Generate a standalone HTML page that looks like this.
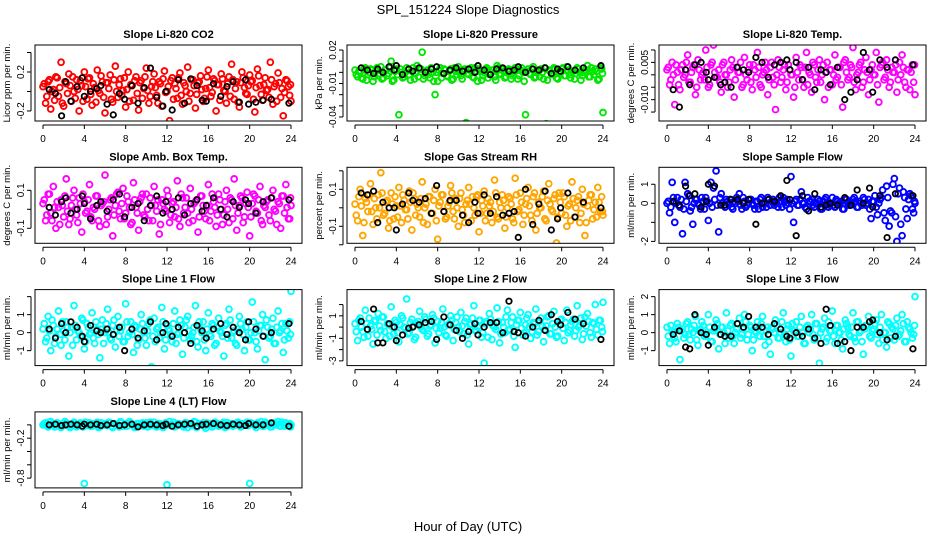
<!DOCTYPE html>
<html><head><meta charset="utf-8"><style>
html,body{margin:0;padding:0;background:#fff;}
svg{display:block;font-family:"Liberation Sans",Arial,sans-serif;}
</style></head><body>
<svg id="chart" width="936" height="540" viewBox="0 0 936 540">
<text x="468" y="14" text-anchor="middle" font-size="13">SPL_151224  Slope Diagnostics</text>
<text x="468" y="531" text-anchor="middle" font-size="13">Hour of Day (UTC)</text>
</svg>
<script>
const T=[0,0.25,0.5,0.75,1,1.25,1.5,1.75,2,2.25,2.5,2.75,3,3.25,3.5,3.75,4,4.25,4.5,4.75,5,5.25,5.5,5.75,6,6.25,6.5,6.75,7,7.25,7.5,7.75,8,8.25,8.5,8.75,9,9.25,9.5,9.75,10,10.25,10.5,10.75,11,11.25,11.5,11.75,12,12.25,12.5,12.75,13,13.25,13.5,13.75,14,14.25,14.5,14.75,15,15.25,15.5,15.75,16,16.25,16.5,16.75,17,17.25,17.5,17.75,18,18.25,18.5,18.75,19,19.25,19.5,19.75,20,20.25,20.5,20.75,21,21.25,21.5,21.75,22,22.25,22.5,22.75,23,23.25,23.5,23.75,24];
const T2=[0.12,0.37,0.62,0.87,1.12,1.37,1.62,1.87,2.12,2.37,2.62,2.87,3.12,3.37,3.62,3.87,4.12,4.37,4.62,4.87,5.12,5.37,5.62,5.87,6.12,6.37,6.62,6.87,7.12,7.37,7.62,7.87,8.12,8.37,8.62,8.87,9.12,9.37,9.62,9.87,10.12,10.37,10.62,10.87,11.12,11.37,11.62,11.87,12.12,12.37,12.62,12.87,13.12,13.37,13.62,13.87,14.12,14.37,14.62,14.87,15.12,15.37,15.62,15.87,16.12,16.37,16.62,16.87,17.12,17.37,17.62,17.87,18.12,18.37,18.62,18.87,19.12,19.37,19.62,19.87,20.12,20.37,20.62,20.87,21.12,21.37,21.62,21.87,22.12,22.37,22.62,22.87,23.12,23.37,23.62,23.87,23.95];
const TB=[0.6,1.2,1.8,2.2,2.7,3.3,3.8,4.0,4.6,5.2,5.6,6.2,6.8,7.4,7.9,8.6,9.2,9.8,10.4,11.0,11.6,11.9,12.5,13.1,13.7,14.3,14.9,15.4,15.8,16.5,17.2,17.8,18.4,19.0,19.6,19.9,20.6,21.3,22.1,23.8];
const xTicks=[0,4,8,12,16,20,24];

const co2=[0.05,-0.12,0.10,-0.18,0.02,0.15,-0.05,0.30,-0.15,0.08,0.18,-0.10,0.00,0.12,-0.20,0.06,0.20,-0.08,0.14,-0.14,0.04,0.22,-0.02,0.10,-0.22,0.09,0.17,-0.11,0.26,-0.06,0.13,0.01,-0.16,0.20,0.07,-0.09,0.15,-0.19,0.11,0.03,0.24,-0.12,0.05,0.18,-0.04,0.10,-0.15,0.21,0.00,-0.30,0.14,0.08,-0.07,0.19,-0.13,0.06,0.25,-0.02,0.12,-0.17,0.09,0.16,-0.10,0.03,0.22,-0.05,0.13,-0.20,0.07,0.18,0.01,-0.12,0.15,0.28,-0.08,0.10,-0.16,0.20,0.04,-0.03,0.17,0.11,-0.21,0.23,0.06,-0.09,0.14,0.02,0.30,-0.13,0.08,0.19,-0.06,-0.25,0.12,0.05,-0.10];
const co2b=[0.08,-0.05,0.12,0.00,-0.09,0.14,0.04,-0.12,0.10,-0.02,0.06,0.15,-0.07,0.02,0.11,-0.10,0.05,0.13,-0.03,0.08,-0.11,0.01,0.16,-0.06,0.09,0.03,-0.08,0.12,0.00,0.07,-0.04,0.14,0.02,-0.10,0.06,0.11,-0.02,0.09,-0.07,0.15,0.01,-0.05,0.10,0.04,-0.12,0.08,0.13,-0.01,0.05,0.11,-0.08,0.03,0.14,-0.04,0.09,0.00,-0.10,0.12,0.06,-0.03,0.10,0.02,-0.07,0.15,0.04,-0.01,0.11,0.07,-0.09,0.13,0.00,0.08,-0.05,0.12,0.03,-0.11,0.09,0.14,-0.02,0.06,0.10,-0.08,0.04,0.16,-0.03,0.07,0.01,-0.06,0.12,0.05,-0.10,0.09,0.03,-0.01,0.11,-0.04,0.07];
const co2B=[0.02,-0.02,-0.25,0.10,-0.10,0.05,0.14,-0.05,0.00,0.03,0.06,-0.13,-0.24,-0.02,-0.08,0.06,-0.12,0.04,0.24,-0.06,-0.15,0.00,-0.19,0.12,-0.12,0.13,0.06,-0.09,-0.10,0.08,-0.05,0.05,0.10,-0.11,0.12,-0.13,-0.11,-0.09,-0.08,-0.12];
const pres=[0.002,-0.004,0.000,-0.006,0.004,-0.002,0.003,-0.008,0.001,-0.003,0.005,-0.005,0.002,-0.001,0.010,-0.007,0.003,-0.038,0.000,-0.004,0.004,-0.002,0.001,-0.006,0.006,0.003,0.018,-0.003,0.002,-0.005,0.000,-0.020,-0.008,0.004,-0.001,0.002,-0.004,0.003,-0.006,0.001,0.005,-0.003,0.002,-0.045,-0.002,0.004,-0.005,0.001,0.003,-0.007,0.000,0.004,-0.002,0.002,-0.004,0.006,-0.001,0.003,-0.005,0.002,0.001,-0.003,0.004,-0.006,0.002,0.000,-0.038,0.003,-0.002,0.005,-0.004,0.001,0.003,-0.006,-0.046,0.002,-0.001,0.004,-0.005,0.000,0.003,-0.003,0.005,-0.002,0.001,-0.006,0.004,0.000,-0.003,0.002,0.006,-0.004,0.001,0.003,-0.007,0.004,-0.036];
const presb=[-0.002,0.001,-0.005,0.003,-0.007,0.000,0.002,-0.004,0.004,-0.001,-0.006,0.002,-0.003,0.004,-0.008,0.001,-0.002,0.003,-0.005,0.000,0.002,-0.007,0.004,-0.001,-0.004,0.003,-0.006,0.001,-0.002,0.004,-0.008,0.000,0.002,-0.005,0.003,-0.003,0.001,-0.007,0.004,-0.002,0.000,-0.006,0.003,-0.001,0.002,-0.004,0.004,-0.008,0.001,-0.003,0.003,-0.005,0.000,0.002,-0.007,0.004,-0.002,0.001,-0.004,0.003,-0.006,0.000,0.002,-0.003,0.004,-0.008,0.001,-0.001,0.003,-0.005,0.002,-0.004,0.000,0.004,-0.007,0.001,-0.002,0.003,-0.006,0.000,0.004,-0.003,0.002,-0.005,0.001,-0.001,0.003,-0.007,0.000,0.002,-0.004,0.004,-0.002,0.001,-0.006,0.003,-0.001];
const presB=[0.004,0.002,-0.001,0.003,0.000,0.005,0.002,0.006,-0.002,0.003,0.001,0.004,0.000,0.003,0.005,-0.001,0.002,0.004,0.001,0.003,0.000,0.006,0.002,-0.002,0.003,0.004,0.001,0.002,0.005,0.000,0.003,0.002,0.004,-0.001,0.003,0.001,0.005,0.002,0.004,0.006];
const temp=[0.002,-0.004,0.005,-0.012,0.001,-0.006,0.004,0.000,0.008,-0.003,0.003,-0.008,0.006,-0.002,0.001,0.010,-0.005,0.004,0.012,-0.001,0.002,-0.007,0.005,0.000,-0.003,0.006,-0.009,0.003,0.001,-0.005,0.007,-0.002,0.004,-0.006,0.002,0.009,-0.004,0.000,0.005,-0.008,0.003,-0.001,-0.014,0.006,-0.003,0.002,-0.006,0.004,0.000,-0.009,0.007,-0.002,0.003,-0.005,0.009,0.001,-0.007,0.004,-0.003,0.006,0.000,-0.010,0.005,0.002,-0.004,0.008,-0.001,0.003,-0.013,0.006,-0.002,0.004,0.011,-0.006,0.001,0.005,-0.003,0.007,-0.008,0.002,0.000,0.009,-0.011,0.004,-0.002,0.006,-0.005,0.003,0.001,-0.007,0.005,0.008,-0.003,0.002,-0.006,0.004,-0.008];
const tempb=[0.003,-0.002,0.000,0.004,-0.004,0.002,-0.001,0.005,-0.003,0.001,0.004,-0.005,0.002,0.000,-0.002,0.003,-0.004,0.005,0.001,-0.001,-0.003,0.004,0.000,-0.005,0.002,0.003,-0.002,0.001,0.005,-0.004,0.000,0.002,-0.003,0.004,-0.001,0.003,-0.005,0.001,0.002,-0.002,0.005,-0.004,0.000,0.003,-0.001,0.004,-0.003,0.002,0.000,-0.005,0.001,0.004,-0.002,0.003,-0.004,0.000,0.005,-0.001,0.002,-0.003,0.004,0.001,-0.005,0.002,0.000,-0.002,0.003,-0.004,0.005,0.001,-0.001,0.003,-0.003,0.000,0.004,-0.005,0.002,0.001,-0.002,0.004,0.000,-0.004,0.003,0.005,-0.001,0.002,-0.003,0.001,0.004,-0.002,0.000,0.003,-0.005,0.002,0.001,-0.003,0.004];
const tempB=[-0.006,-0.013,0.002,-0.004,0.004,0.005,0.001,-0.002,-0.001,-0.004,-0.003,-0.005,0.003,0.002,0.001,0.007,0.005,-0.001,0.004,0.005,0.006,0.002,0.005,-0.002,0.003,-0.006,0.002,0.001,-0.004,0.003,-0.010,-0.007,-0.002,0.009,0.002,-0.007,0.006,0.003,0.006,0.004];
const amb=[0.03,-0.06,0.08,-0.02,0.12,-0.10,0.01,0.05,-0.04,0.16,-0.08,0.02,0.10,-0.03,0.06,-0.12,0.04,-0.01,0.13,-0.06,0.00,0.07,-0.09,0.03,0.18,-0.04,0.05,-0.14,0.02,0.09,-0.05,0.11,-0.02,0.04,-0.08,0.14,0.01,-0.11,0.06,-0.03,0.08,-0.06,0.02,0.12,-0.01,-0.13,0.05,0.00,0.10,-0.07,0.03,-0.04,0.15,-0.09,0.06,0.01,-0.02,0.11,-0.06,0.04,-0.12,0.07,0.02,-0.05,0.13,-0.01,0.04,-0.09,0.08,0.00,-0.03,0.10,-0.07,0.05,0.16,-0.11,0.02,0.06,-0.04,0.09,-0.14,0.03,0.07,-0.02,0.12,-0.08,0.01,0.05,-0.06,0.10,-0.01,0.04,-0.10,0.07,0.13,-0.05,0.02];
const ambb=[0.05,-0.03,0.08,-0.06,0.01,0.04,-0.08,0.02,0.07,-0.01,-0.05,0.06,0.00,-0.07,0.03,0.08,-0.02,0.05,-0.04,0.01,0.07,-0.06,0.02,0.04,-0.08,0.00,0.06,-0.03,0.08,-0.01,0.03,-0.05,0.07,0.01,-0.07,0.05,-0.02,0.04,0.08,-0.04,0.00,0.06,-0.06,0.02,0.05,-0.08,0.03,-0.01,0.07,-0.03,0.04,0.01,-0.05,0.08,-0.02,0.06,-0.07,0.00,0.03,0.05,-0.04,0.07,-0.01,0.02,-0.06,0.08,0.01,-0.03,0.05,-0.08,0.04,0.00,0.06,-0.05,0.02,-0.02,0.07,-0.07,0.03,0.01,-0.04,0.08,-0.01,0.05,-0.06,0.02,0.04,-0.03,0.06,0.00,-0.08,0.03,0.07,-0.02,0.01,-0.05,0.06];
const ambB=[0.01,-0.03,0.04,0.06,-0.02,0.00,0.07,0.03,-0.05,0.02,0.04,-0.01,0.05,0.08,-0.04,0.01,0.03,-0.06,0.02,0.07,-0.02,0.04,0.00,0.06,-0.03,0.03,0.05,-0.01,0.02,0.06,0.00,-0.04,0.04,0.01,0.05,0.03,-0.02,0.04,0.06,0.05];
const rh=[0.02,-0.07,0.10,-0.15,0.05,-0.02,0.13,-0.09,0.00,0.07,0.19,-0.04,0.03,-0.11,0.08,-0.06,0.01,0.11,-0.08,0.04,-0.01,0.09,-0.12,0.05,0.02,-0.05,0.14,0.00,-0.09,0.06,-0.03,0.10,-0.17,0.03,0.07,-0.06,0.01,0.12,-0.02,0.05,-0.10,0.08,-0.04,0.02,0.11,-0.07,0.00,0.06,-0.13,0.04,0.09,-0.03,0.01,-0.08,0.15,-0.05,0.03,0.07,-0.11,0.00,0.05,-0.06,0.16,-0.02,0.08,-0.09,0.02,0.11,-0.04,0.06,-0.12,0.03,0.00,0.09,-0.07,0.13,-0.01,0.05,-0.19,0.08,-0.03,0.06,-0.10,0.02,0.14,-0.05,0.04,-0.08,0.10,-0.15,0.01,0.07,-0.06,0.03,0.11,-0.02,-0.04];
const rhb=[-0.04,0.06,0.01,-0.08,0.03,0.07,-0.02,0.05,-0.06,0.00,0.08,-0.03,0.04,-0.07,0.02,0.06,-0.05,0.01,0.07,-0.01,-0.06,0.03,0.08,-0.04,0.00,0.05,-0.08,0.02,0.06,-0.03,0.04,-0.07,0.01,0.07,-0.02,-0.05,0.03,0.08,-0.06,0.00,0.05,-0.01,-0.08,0.04,0.02,0.06,-0.04,0.07,-0.03,0.01,-0.07,0.05,0.03,-0.02,0.08,-0.06,0.00,0.04,-0.05,0.06,0.02,-0.08,0.07,-0.01,0.03,-0.04,0.05,0.01,-0.07,0.08,-0.03,0.00,0.06,-0.06,0.04,0.02,-0.02,0.07,-0.05,0.03,0.08,-0.04,0.01,-0.07,0.05,0.00,0.06,-0.03,0.02,-0.08,0.04,0.07,-0.01,-0.05,0.03,0.06,-0.02];
const rhB=[0.08,0.07,0.09,-0.08,0.03,0.00,0.00,-0.12,0.02,0.08,0.04,0.03,0.05,-0.03,0.12,-0.02,0.04,0.04,-0.04,-0.08,0.03,-0.03,0.07,-0.03,0.06,-0.04,-0.03,-0.02,-0.16,0.10,-0.09,0.02,0.09,-0.12,-0.06,0.00,0.08,-0.05,0.03,0.00];
const sflow=[0.0,-0.5,1.1,-1.0,0.3,-0.2,-1.6,1.1,0.5,-0.4,-1.1,0.2,0.0,-0.3,0.1,0.3,-0.9,1.1,0.8,1.7,-1.5,0.5,-0.1,0.2,0.0,-0.2,0.1,0.3,0.5,-0.3,0.1,-0.1,0.2,0.0,-0.3,0.1,0.2,-0.2,0.0,0.3,-0.1,0.2,0.0,-0.2,0.1,0.3,-0.1,0.0,1.4,-1.0,0.2,-0.1,0.6,0.0,-0.3,0.1,0.2,-0.2,0.0,0.1,-0.3,0.2,0.0,-0.1,0.3,-0.2,0.1,0.0,-0.3,0.2,0.0,-0.1,0.2,0.1,-0.2,0.0,0.3,-0.1,0.2,-0.8,0.1,-0.2,0.0,0.3,-0.5,0.9,-1.2,-0.5,1.3,-2.0,0.8,-1.7,0.3,-0.8,0.5,-0.3,0.0];
const sflowb=[0.1,-0.2,0.3,0.0,-0.1,0.2,-0.3,0.1,0.4,-0.2,0.0,0.2,-0.1,0.3,-0.3,0.1,0.0,-0.2,0.2,-0.1,0.3,0.0,-0.2,0.1,0.2,-0.3,0.0,0.1,-0.1,0.3,-0.2,0.0,0.2,-0.1,0.1,-0.3,0.3,0.0,-0.2,0.2,0.1,-0.1,0.0,0.3,-0.2,0.1,0.2,-0.3,0.0,0.1,-0.1,0.2,0.0,-0.2,0.3,0.1,-0.1,0.0,0.2,-0.3,0.1,0.3,-0.2,0.0,-0.1,0.2,0.0,0.1,-0.3,0.2,-0.1,0.0,0.3,-0.2,0.1,-0.1,0.2,0.0,-0.3,0.1,0.4,-0.6,0.2,0.7,-0.9,0.3,-0.4,1.0,-0.7,0.5,-1.1,0.6,-0.3,0.2,0.4,-0.5,0.1];
const sflowB=[0.1,-0.1,0.9,0.4,0.5,-0.2,0.1,1.0,0.9,-0.1,-0.1,0.2,0.2,0.0,0.2,-1.1,0.0,0.2,0.1,0.4,1.2,0.2,-1.7,0.4,-0.4,0.5,-0.2,-0.1,0.0,-0.1,0.3,-0.1,0.7,0.0,0.8,-0.2,0.4,-1.8,0.5,0.4];
const line1=[0.2,-0.5,0.9,-1.0,0.4,-0.2,1.2,-0.7,0.1,0.6,-1.3,0.3,1.5,-0.4,0.0,0.8,-0.9,0.5,-0.1,1.1,-0.6,0.2,-1.4,0.7,0.0,1.3,-0.3,0.4,-0.8,0.9,0.1,-0.5,1.6,-0.2,0.6,-1.1,0.3,-0.4,1.0,0.0,-0.7,0.5,-1.9,0.8,0.2,-0.3,1.4,-0.9,0.4,0.1,-0.5,1.2,-0.1,0.7,-1.2,0.3,0.9,-0.4,0.0,1.5,-0.8,0.2,0.6,-1.0,1.1,-0.2,0.4,-0.6,0.8,0.0,-1.3,0.5,1.3,-0.3,0.1,-0.7,0.9,0.2,-1.0,0.6,-0.4,1.7,0.0,-0.9,0.4,1.0,-1.5,0.3,-0.2,0.8,-0.6,1.2,0.1,-1.1,0.5,-0.3,2.3];
const line1b=[0.5,-0.3,0.1,0.7,-0.6,0.2,-0.1,0.6,-0.4,0.3,0.0,-0.7,0.4,0.1,-0.2,0.7,-0.5,0.3,0.0,-0.3,0.6,-0.1,0.2,-0.6,0.5,0.0,-0.4,0.7,0.1,-0.2,0.3,-0.5,0.6,0.0,-0.1,0.4,-0.7,0.2,0.5,-0.3,0.1,0.7,-0.2,-0.5,0.3,0.0,0.6,-0.4,0.2,-0.1,0.5,-0.6,0.0,0.4,-0.3,0.7,0.1,-0.2,0.3,-0.5,0.6,0.0,-0.4,0.2,-0.1,0.5,-0.7,0.3,0.1,-0.2,0.4,-0.3,0.7,0.0,-0.6,0.2,0.5,-0.1,0.3,-0.4,0.0,0.6,-0.5,0.1,0.4,-0.2,0.7,-0.3,0.2,-0.6,0.3,0.0,0.5,-0.4,0.1,0.6,-0.1];
const line1B=[0.2,-0.3,0.5,0.0,0.6,0.3,-0.2,-0.5,0.4,0.1,0.0,0.2,-0.1,0.3,-1.0,0.2,-0.3,0.1,0.6,-0.4,0.0,0.5,-0.2,0.3,0.0,-0.6,0.4,0.1,-0.3,0.2,0.5,-0.1,0.3,0.0,-0.4,0.6,0.2,-0.2,0.0,0.5];
const line2=[0.3,-1.2,0.8,-0.4,1.5,-0.8,0.1,-1.5,0.6,1.2,-0.3,0.9,-1.0,0.2,1.8,-0.6,0.4,-1.3,1.0,0.0,2.5,-0.5,0.7,-1.1,0.3,1.4,-0.2,0.9,-0.8,0.1,1.1,-1.4,0.5,-0.1,1.6,-0.7,0.2,1.0,-1.2,0.4,0.0,1.3,-0.6,0.8,-1.5,0.3,1.9,-0.3,0.6,-0.9,-3.2,0.5,1.2,-1.1,0.0,1.7,-1.4,0.4,-0.5,1.5,-0.2,0.9,-1.8,0.6,1.3,-0.7,0.2,1.1,-1.0,0.4,1.6,-0.4,0.8,-1.3,0.1,1.0,-0.6,1.4,-0.9,0.3,0.7,-1.2,1.5,-0.3,0.5,-0.8,1.9,0.2,-1.1,0.9,1.2,-0.5,0.4,2.0,-0.7,0.6,2.2];
const line2b=[-0.4,0.6,0.0,-0.9,0.3,0.8,-0.2,0.5,-0.7,0.1,0.9,-0.4,0.3,-0.8,0.0,0.6,-0.5,0.2,0.8,-0.1,-0.6,0.4,0.1,-0.9,0.5,0.0,-0.3,0.7,-0.6,0.2,0.8,-0.1,-0.5,0.4,0.0,-0.8,0.3,0.6,-0.2,0.9,-0.4,0.1,0.5,-0.7,0.2,0.8,-0.3,0.0,0.6,-0.5,0.3,-0.9,0.7,0.1,-0.2,0.5,-0.6,0.0,0.9,-0.3,0.4,-0.8,0.2,0.6,-0.1,-0.5,0.8,0.0,-0.4,0.3,-0.7,0.5,0.1,-0.2,0.9,-0.6,0.3,0.0,-0.8,0.6,-0.1,0.4,-0.5,0.2,0.7,-0.3,0.0,0.8,-0.6,0.1,0.5,-0.9,0.3,-0.2,0.6,0.0,-0.4];
const line2B=[0.5,-0.2,1.6,-1.4,-1.4,0.3,0.0,-1.2,-0.7,-0.1,0.0,0.2,0.4,0.5,-1.1,0.9,0.2,-0.3,-1.0,-0.4,0.3,-0.7,0.0,0.4,0.4,-0.5,2.3,-0.4,-0.5,-0.8,0.0,0.6,-0.3,1.1,0.5,0.2,1.3,0.7,0.3,-1.1];
const line3=[0.3,-0.6,0.1,-0.3,0.5,-1.5,0.2,-0.1,0.6,-0.4,0.0,0.9,-0.7,0.2,0.4,-0.2,1.0,-0.5,0.1,0.7,-0.9,0.3,0.0,1.1,-0.3,0.5,-0.6,0.2,0.8,-0.1,1.0,-0.4,0.4,-1.0,0.1,0.6,-0.2,0.9,-0.7,0.3,-1.2,0.2,0.7,-0.3,0.0,1.1,-0.5,0.4,-1.3,0.1,0.6,-0.2,0.9,-0.6,0.3,0.0,1.0,-0.4,0.5,-1.7,0.2,0.8,-0.3,0.1,1.2,-0.6,0.4,0.0,-0.9,0.7,0.3,-0.2,1.1,-0.5,0.6,0.1,-1.2,0.4,0.9,-0.3,0.2,0.7,-0.6,1.0,0.0,-0.8,0.5,0.3,-0.4,0.8,-0.1,1.0,-0.5,0.6,0.2,-0.3,2.0];
const line3b=[-0.2,0.4,0.0,-0.5,0.3,0.1,-0.3,0.5,-0.1,0.2,0.4,-0.4,0.1,0.6,-0.2,0.0,0.3,-0.5,0.2,0.5,-0.1,0.3,-0.6,0.1,0.4,-0.2,0.0,0.5,-0.3,0.2,0.6,-0.1,0.3,-0.4,0.0,0.2,0.5,-0.2,0.1,-0.5,0.3,0.0,0.4,-0.3,0.6,-0.1,0.2,-0.4,0.5,0.1,-0.2,0.3,0.0,-0.6,0.4,0.2,-0.1,0.5,-0.3,0.0,0.3,-0.5,0.6,0.1,-0.2,0.4,0.0,-0.4,0.2,0.5,-0.1,0.3,-0.3,0.6,0.0,-0.5,0.2,0.4,-0.2,0.1,0.5,-0.1,0.3,-0.4,0.0,0.6,-0.3,0.2,0.4,-0.2,0.1,0.5,-0.5,0.3,0.0,-0.1,0.4];
const line3B=[-0.1,0.1,-0.8,-0.9,1.0,0.0,-0.1,-0.7,0.3,-0.1,-0.2,-0.2,0.5,0.3,0.9,0.3,0.3,-0.1,0.5,0.2,-0.2,-0.3,0.0,-0.2,0.2,-0.3,-0.6,1.3,0.4,-0.6,-0.5,-1.0,0.3,0.3,0.6,0.7,0.0,-0.4,-0.2,-0.9];
const line4=[0.00,0.03,-0.03,0.05,0.01,-0.02,0.02,-0.04,0.00,0.03,-0.02,0.01,0.04,-0.03,0.00,0.02,-0.88,-0.01,0.03,-0.02,0.01,0.04,-0.03,0.00,0.02,-0.01,0.03,-0.04,0.01,0.00,0.05,-0.02,0.02,-0.01,0.03,0.00,-0.03,0.02,0.01,-0.02,0.03,0.00,-0.01,0.04,-0.03,0.02,0.01,-0.02,-0.90,0.05,0.00,-0.03,0.02,0.01,-0.01,0.03,-0.04,0.02,0.00,0.04,-0.02,0.01,0.03,-0.05,0.00,0.02,-0.01,0.03,-0.02,0.01,0.04,-0.03,0.00,0.02,-0.01,0.03,0.00,-0.02,0.01,0.04,-0.88,0.02,-0.01,0.03,0.00,-0.02,0.04,0.01,-0.03,0.02,0.00,0.05,-0.02,0.01,0.03,-0.01,0.00];
const line4b=[0.02,-0.01,0.04,0.00,-0.03,0.03,0.01,-0.02,0.05,0.00,-0.04,0.02,0.01,-0.01,0.03,-0.03,0.04,0.00,-0.02,0.02,0.01,-0.04,0.03,0.00,-0.01,0.04,-0.02,0.02,0.00,-0.03,0.03,0.01,-0.02,0.05,0.00,-0.04,0.02,-0.01,0.03,0.01,-0.03,0.04,0.00,-0.02,0.02,0.01,-0.04,0.03,0.00,-0.01,0.04,-0.02,0.02,0.00,-0.03,0.03,0.01,-0.01,0.05,-0.04,0.02,0.00,-0.02,0.03,0.01,-0.03,0.04,0.00,-0.01,0.02,-0.04,0.03,0.01,-0.02,0.00,0.04,-0.03,0.02,0.01,-0.01,0.03,0.00,-0.04,0.02,0.05,-0.02,0.01,0.00,-0.03,0.03,0.01,-0.01,0.04,-0.02,0.00,0.02,-0.03];
const line4B=[0.00,0.01,-0.01,0.00,0.01,0.00,-0.02,0.01,0.00,0.01,-0.01,0.00,0.02,-0.01,0.00,0.01,-0.03,0.00,0.01,0.00,-0.01,0.01,-0.02,0.00,0.01,0.02,-0.02,0.00,0.01,0.02,0.00,-0.01,0.01,0.00,-0.01,0.02,0.00,0.00,0.03,-0.02];

const co2Ticks=[-0.2,0,0.2,0.4], co2Labels=["-0.2","","0.2",""];
const presTicks=[0.02,0.01,0,-0.01,-0.02,-0.03,-0.04], presLabels=["0.02","","","-0.01","","","-0.04"];
const tempTicks=[0.010,0.005,0,-0.005,-0.010,-0.015], tempLabels=["","0.005","","","-0.010",""];
const ambTicks=[0.1,0,-0.1], ambLabels=["0.1","","-0.1"];
const rhTicks=[0.2,0.1,0,-0.1,-0.2], rhLabels=["","0.1","","-0.1",""];
const sfTicks=[1,0,-1,-2], sfLabels=["1","0","","-2"];
const l1Ticks=[2,1,0,-1], l1Labels=["","1","0","-1"];
const l2Ticks=[2,1,0,-1,-2,-3], l2Labels=["","1","","-1","","-3"];
const l3Ticks=[2,1,0,-1], l3Labels=["2","1","0","-1"];
const l4Ticks=[0,-0.2,-0.4,-0.6,-0.8], l4Labels=["","-0.2","","","-0.8"];

const NS="http://www.w3.org/2000/svg";
const svg=document.getElementById('chart');
function mk(tag,attrs,parent){const e=document.createElementNS(NS,tag);for(const k in attrs)e.setAttribute(k,attrs[k]);(parent||svg).appendChild(e);return e;}

const panels=[
 {id:'co2',title:'Slope Li-820 CO2',ylab:'Licor ppm per min.',col:0,row:0,top:0.477,bot:-0.303,ticks:co2Ticks,labels:co2Labels,c:co2,c2:co2b,b:co2B,color:'#ff0000'},
 {id:'pressure',title:'Slope Li-820 Pressure',ylab:'kPa per min.',col:1,row:0,top:0.0245,bot:-0.0436,ticks:presTicks,labels:presLabels,c:pres,c2:presb,b:presB,color:'#00e600'},
 {id:'temp',title:'Slope Li-820 Temp.',ylab:'degrees C per min.',col:2,row:0,top:0.012,bot:-0.0186,ticks:tempTicks,labels:tempLabels,c:temp,c2:tempb,b:tempB,color:'#ff00ff'},
 {id:'amb-box-temp',title:'Slope Amb. Box Temp.',ylab:'degrees C per min.',col:0,row:1,top:0.221,bot:-0.179,ticks:ambTicks,labels:ambLabels,c:amb,c2:ambb,b:ambB,color:'#ff00ff'},
 {id:'gas-stream-rh',title:'Slope Gas Stream RH',ylab:'percent per min.',col:1,row:1,top:0.219,bot:-0.192,ticks:rhTicks,labels:rhLabels,c:rh,c2:rhb,b:rhB,color:'#ffa500'},
 {id:'sample-flow',title:'Slope Sample Flow',ylab:'ml/min per min.',col:2,row:1,top:1.89,bot:-2.1,ticks:sfTicks,labels:sfLabels,c:sflow,c2:sflowb,b:sflowB,color:'#0000ff'},
 {id:'line1-flow',title:'Slope Line 1 Flow',ylab:'ml/min per min.',col:0,row:2,top:2.39,bot:-1.83,ticks:l1Ticks,labels:l1Labels,c:line1,c2:line1b,b:line1B,color:'#00ffff'},
 {id:'line2-flow',title:'Slope Line 2 Flow',ylab:'ml/min per min.',col:1,row:2,top:3.33,bot:-3.42,ticks:l2Ticks,labels:l2Labels,c:line2,c2:line2b,b:line2B,color:'#00ffff'},
 {id:'line3-flow',title:'Slope Line 3 Flow',ylab:'ml/min per min.',col:2,row:2,top:2.39,bot:-1.83,ticks:l3Ticks,labels:l3Labels,c:line3,c2:line3b,b:line3B,color:'#00ffff'},
 {id:'line4-flow',title:'Slope Line 4 (LT) Flow',ylab:'ml/min per min.',col:0,row:3,top:0.195,bot:-0.947,ticks:l4Ticks,labels:l4Labels,c:line4,c2:line4b,b:line4B,color:'#00ffff'}
];

panels.forEach(p=>{
  const L=35+312*p.col, R=L+267, Tp=45+122.3*p.row, B=Tp+76;
  const g=mk('g',{});
  
  
  const xs=h=>(L+8)+h/24*(R-11-(L+8));
  const ys=v=>Tp+(p.top-v)/(p.top-p.bot)*(B-Tp);
  const t=mk('text',{x:(L+R)/2,y:Tp-7,'text-anchor':'middle','font-size':'11','font-weight':'bold'},g);
  t.textContent=p.title;
  
  
  const pts=mk('g',{},g);
  
  
  const clipId='clip-'+p.id;
  const cp=mk('clipPath',{id:clipId},g);mk('rect',{x:L,y:Tp,width:R-L,height:B-Tp},cp);
  pts.setAttribute('clip-path','url(#'+clipId+')');
  for(let i=0;i<p.c2.length&&i<T2.length;i++){
    const c=mk('circle',{cx:xs(T2[i]),cy:ys(p.c2[i]),r:2.9,fill:'none',stroke:p.color,'stroke-width':1.9},pts);
    
    
  }
  for(let i=0;i<p.c.length&&i<T.length;i++){
    const c=mk('circle',{cx:xs(T[i]),cy:ys(p.c[i]),r:2.9,fill:'none',stroke:p.color,'stroke-width':1.9},pts);
    
    
  }
  for(let i=0;i<p.b.length&&i<TB.length;i++){
    const c=mk('circle',{cx:xs(TB[i]),cy:ys(p.b[i]),r:2.7,fill:'none',stroke:'#000','stroke-width':1.8},pts);
    
    
  }
  const box=mk('rect',{x:L,y:Tp,width:R-L,height:B-Tp,fill:'none',stroke:'#000','stroke-width':1},g);
  
  
  const xa=mk('g',{},g);
  
  
  mk('line',{x1:xs(0),x2:xs(24),y1:B+4,y2:B+4,stroke:'#000'},xa);
  xTicks.forEach(h=>{
    mk('line',{x1:xs(h),x2:xs(h),y1:B+4,y2:B+8,stroke:'#000'},xa);
    const tl=mk('text',{x:xs(h),y:B+21,'text-anchor':'middle','font-size':'10'},xa);
    tl.textContent=String(h);
    
    
  });
  const ya=mk('g',{},g);
  
  
  const yv=p.ticks.map(ys);
  mk('line',{x1:L-4,x2:L-4,y1:Math.min(...yv),y2:Math.max(...yv),stroke:'#000'},ya);
  p.ticks.forEach((v,i)=>{
    const y=ys(v);
    mk('line',{x1:L-8,x2:L-4,y1:y,y2:y,stroke:'#000'},ya);
    if(p.labels[i]){
      const tl=mk('text',{x:0,y:0,'text-anchor':'middle','font-size':'10',transform:`translate(${L-11},${y}) rotate(-90)`},ya);
      tl.textContent=p.labels[i];
      
      
    }
  });
  const yl=mk('text',{x:0,y:0,'text-anchor':'middle','font-size':'9.5',transform:`translate(${L-25},${(Tp+B)/2}) rotate(-90)`},g);
  yl.textContent=p.ylab;
  
  
});
</script>
</body></html>
